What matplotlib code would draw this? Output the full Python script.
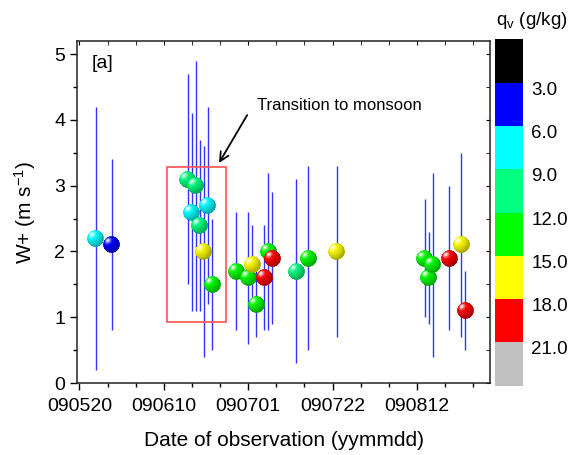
import numpy as np
import pandas as pd
import matplotlib
matplotlib.use("Agg")
import matplotlib.pyplot as plt
import matplotlib.dates as mdates
from matplotlib.colors import ListedColormap, BoundaryNorm, to_rgb
from matplotlib.offsetbox import OffsetImage, AnnotationBbox
from matplotlib.patches import Rectangle
from matplotlib.ticker import FixedLocator, MultipleLocator
from matplotlib.transforms import ScaledTranslation

plt.rcParams['font.family'] = ['Liberation Sans', 'DejaVu Sans']
plt.rcParams['mathtext.default'] = 'regular'
plt.rcParams['font.size'] = 14

# observations: date, W+ mean, spread and specific humidity
obs_dates = ['090524', '090528', '090616', '090617', '090618', '090619', '090620',
             '090621', '090622', '090628', '090701', '090702', '090703', '090705',
             '090706', '090707', '090713', '090716', '090723', '090814', '090815',
             '090816', '090820', '090823', '090824']
w_plus = [2.2, 2.1, 3.1, 2.6, 3.0, 2.4, 2.0, 2.7, 1.5, 1.7, 1.6, 1.8, 1.2, 1.6,
          2.0, 1.9, 1.7, 1.9, 2.0, 1.9, 1.6, 1.8, 1.9, 2.1, 1.1]
w_err = [2.0, 1.3, 1.6, 1.5, 1.9, 1.3, 1.6, 1.5, 1.0, 0.9, 1.0, 0.6, 0.5, 0.8,
         1.2, 1.0, 1.4, 1.4, 1.3, 0.9, 0.7, 1.4, 1.1, 1.4, 0.6]
qv = [7.5, 4.5, 10.5, 7.5, 10.5, 10.5, 16.5, 7.5, 13.5, 13.5, 13.5, 16.5, 13.5,
      19.5, 13.5, 19.5, 10.5, 13.5, 16.5, 13.5, 13.5, 13.5, 19.5, 16.5, 19.5]

tick_dates = ['090520', '090610', '090701', '090722', '090812']
qv_bounds = [0, 3, 6, 9, 12, 15, 18, 21, 24]
qv_colors = ['#000000', '#0000ff', '#00ffff', '#00ff80', '#00ff00',
             '#ffff00', '#ff0000', '#c0c0c0']

dates = mdates.date2num(pd.to_datetime(obs_dates, format='%y%m%d'))
tdates = mdates.date2num(pd.to_datetime(tick_dates, format='%y%m%d'))
t0 = tdates[0]

cmap = ListedColormap(qv_colors)
norm = BoundaryNorm(qv_bounds, cmap.N)


def ball_image(color, n=40):
    # shaded sphere sprite lit from the upper left
    yy, xx = np.mgrid[-1:1:n * 1j, -1:1:n * 1j]
    r = np.sqrt(xx ** 2 + yy ** 2)
    z = np.sqrt(np.clip(1 - r ** 2, 0, 1))
    light = np.array([-0.45, -0.5, 0.74])
    light = light / np.linalg.norm(light)
    d = np.clip(xx * light[0] + yy * light[1] + z * light[2], 0, 1)
    base = np.array(to_rgb(color))
    rgb = base[None, None, :] * (0.68 + 0.32 * d)[..., None]
    spec = (d ** 14)[..., None] * 0.95
    rgb = rgb + spec * (1 - rgb)
    alpha = np.clip((1 - r) * n / 2 + 0.5, 0, 1)
    return np.dstack([rgb, alpha])


fig = plt.figure(figsize=(5.68, 4.55), dpi=100)
ax = fig.add_axes([0.1356, 0.1582, 0.7271, 0.7517])

ax.errorbar(dates, w_plus, yerr=w_err, fmt='none', ecolor='#0000ff',
            elinewidth=1.0, capsize=0, alpha=0.8, zorder=2)

zoom = 17 / (40 * fig.dpi / 72)
for xd, yv, q in zip(dates, w_plus, qv):
    img = OffsetImage(ball_image(cmap(norm(q))), zoom=zoom)
    ab = AnnotationBbox(img, (xd, yv), frameon=False, pad=0, zorder=3)
    ax.add_artist(ab)

# box around the transition period
ax.add_patch(Rectangle((t0 + 21.8, 0.93), 14.7, 2.35, fill=False,
                       edgecolor='#ff5050', linewidth=1.2, zorder=4))
ax.annotate('', xy=(t0 + 34.4, 3.31), xytext=(t0 + 42.1, 4.11),
            arrowprops=dict(arrowstyle='->', color='k', lw=1.3,
                            mutation_scale=16))
ax.text(t0 + 44.2, 4.22, 'Transition to monsoon', fontsize=12, va='center',
        ha='left')
ax.text(0.036, 0.935, '[a]', transform=ax.transAxes, fontsize=14,
        va='center', ha='left')

ax.set_xlim(t0 - 0.6, t0 + 102.2)
ax.set_ylim(0, 5.2)
ax.xaxis.set_major_locator(FixedLocator(tdates))
ax.xaxis.set_minor_locator(FixedLocator(np.arange(t0, t0 + 103, 7)))
ax.xaxis.set_major_formatter(mdates.DateFormatter('%y%m%d'))
ax.yaxis.set_major_locator(MultipleLocator(1))
ax.yaxis.set_minor_locator(MultipleLocator(0.5))
ax.tick_params(which='major', direction='out', length=5, width=1,
               labelsize=14, top=False, right=False)
ax.tick_params(axis='x', which='major', pad=6)
ax.tick_params(which='minor', direction='out', length=3, width=1,
               top=False, right=False)
for s in ax.spines.values():
    s.set_linewidth(1.1)
    s.set_color('#222222')

# inward ticks on the opposite spines
top = ax.secondary_xaxis('top')
top.xaxis.set_major_locator(FixedLocator(tdates))
top.xaxis.set_minor_locator(FixedLocator(np.arange(t0, t0 + 103, 7)))
top.tick_params(which='both', direction='in', labeltop=False, length=3)
top.spines['top'].set_visible(False)
right = ax.secondary_yaxis('right')
right.yaxis.set_major_locator(MultipleLocator(1))
right.yaxis.set_minor_locator(MultipleLocator(0.5))
right.tick_params(which='both', direction='in', labelright=False, length=3)
right.spines['right'].set_visible(False)

ax.set_xlabel('Date of observation (yymmdd)', fontsize=15, labelpad=11)
ax.set_ylabel('W+ (m s$^{-1}$)', fontsize=15, labelpad=12)

# humidity colour scale, low values at the top
cax = fig.add_axes([0.8715, 0.1523, 0.0493, 0.7613])
sm = plt.cm.ScalarMappable(norm=norm, cmap=cmap)
cb = fig.colorbar(sm, cax=cax, boundaries=qv_bounds, ticks=qv_bounds[1:-1],
                  spacing='uniform')
cb.outline.set_visible(False)
cax.invert_yaxis()
cax.minorticks_off()
cax.set_yticks(qv_bounds[1:-1])
cax.set_yticklabels(['%.1f' % b for b in qv_bounds[1:-1]])
cax.tick_params(which='both', length=0, labelsize=13.5, pad=6)
for lab in cax.get_yticklabels():
    lab.set_transform(lab.get_transform() +
                      ScaledTranslation(0, -4 / 72, fig.dpi_scale_trans))
fig.text(0.874, 0.956, 'q$_v$ (g/kg)', fontsize=13.5, ha='left', va='center')

fig.savefig('out.png', dpi=100)
